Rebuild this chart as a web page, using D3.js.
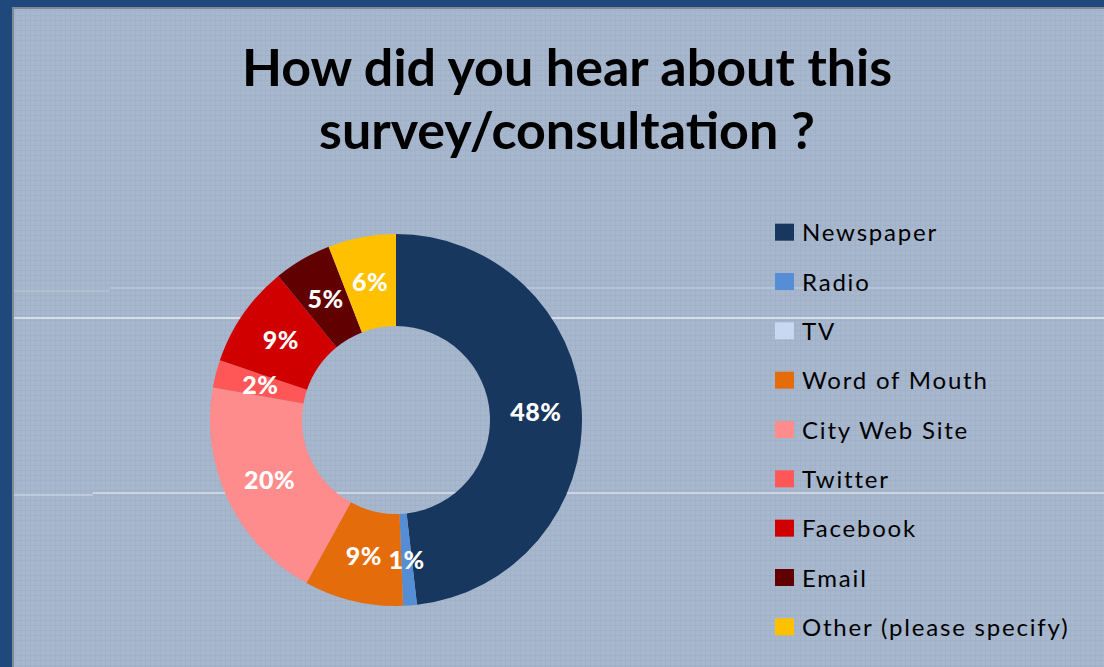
<!DOCTYPE html>
<html lang="en">
<head>
    <meta charset="UTF-8">
    <title>How did you hear about this survey/consultation ?</title>
    <script src="https://cdn.jsdelivr.net/npm/d3@7"></script>
    <style>
        body { margin: 0; background: #1f497d; }
        svg { display: block; }
    </style>
</head>
<body>
<script>
    // chart data
    var categories = ["Newspaper", "Radio", "TV", "Word of Mouth", "City Web Site",
                      "Twitter", "Facebook", "Email", "Other (please specify)"];
    var shares = [48.2, 1.2, 0, 8.6, 19.8, 2.4, 8.9, 5.0, 5.9];
    var colours = ["#17375e", "#558ed5", "#c6d9f1", "#e46c0a", "#ff8c8c",
                   "#ff5757", "#d00000", "#600000", "#ffc000"];
    var titleLines = ["How did you hear about this", "survey/consultation ?"];

    var W = 1104, H = 667;
    var svg = d3.select("body").append("svg")
            .attr("width", W)
            .attr("height", H);

    // faint grid texture of the slide background
    var defs = svg.append("defs");
    var pat = defs.append("pattern")
            .attr("id", "grid")
            .attr("width", 5).attr("height", 5)
            .attr("patternUnits", "userSpaceOnUse");
    pat.append("rect").attr("width", 5).attr("height", 5).attr("fill", "#a7b7cd");
    pat.append("path").attr("d", "M0,0.5H5M0.5,0V5")
            .attr("stroke", "#a0b1c8").attr("stroke-width", 1);

    // frame
    svg.append("rect").attr("width", W).attr("height", H).attr("fill", "#1f497d");
    svg.append("rect").attr("x", 12).attr("y", 7).attr("width", W - 12).attr("height", H - 7)
            .attr("fill", "#7f8a99");
    svg.append("rect").attr("x", 14).attr("y", 9).attr("width", W - 14).attr("height", H - 9)
            .attr("fill", "url(#grid)");

    // stray light lines on the background
    var lines = [
        {x1: 110, x2: W, y: 288, o: 0.3},
        {x1: 14, x2: 110, y: 291, o: 0.25},
        {x1: 14, x2: W, y: 318, o: 0.85},
        {x1: 93, x2: W, y: 493, o: 0.7},
        {x1: 14, x2: 93, y: 495, o: 0.5}
    ];
    svg.selectAll("line.bg").data(lines).enter().append("line")
            .attr("class", "bg")
            .attr("x1", function(d) { return d.x1; })
            .attr("x2", function(d) { return d.x2; })
            .attr("y1", function(d) { return d.y; })
            .attr("y2", function(d) { return d.y; })
            .attr("stroke", "#eef2f8")
            .attr("stroke-opacity", function(d) { return d.o; })
            .attr("stroke-width", 1.5);

    // title
    svg.append("text")
            .attr("x", 567)
            .attr("y", 86)
            .attr("text-anchor", "middle")
            .style("font-family", "Lato, 'Open Sans', sans-serif")
            .style("font-weight", "bold")
            .style("font-size", "52px")
            .attr("fill", "#000")
            .selectAll("tspan").data(titleLines).enter().append("tspan")
            .attr("x", 567)
            .attr("dy", function(d, i) { return i ? 63 : 0; })
            .text(function(d) { return d; });

    // donut
    var cx = 396, cy = 420, rOut = 186, rIn = 94;
    var pie = d3.pie().sort(null).value(function(d) { return d; });
    var arc = d3.arc().innerRadius(rIn).outerRadius(rOut);
    var labelArc = d3.arc().innerRadius((rIn + rOut) / 2).outerRadius((rIn + rOut) / 2);
    var colour = d3.scaleOrdinal().domain(categories).range(colours);
    var arcs = pie(shares);

    var g = svg.append("g").attr("transform", "translate(" + cx + "," + cy + ")");
    g.selectAll("path").data(arcs).enter().append("path")
            .attr("d", arc)
            .attr("fill", function(d, i) { return colour(categories[i]); });

    g.selectAll("text").data(arcs.filter(function(d) { return d.value > 0; }))
            .enter().append("text")
            .attr("transform", function(d) { return "translate(" + labelArc.centroid(d) + ")"; })
            .attr("dy", "0.36em")
            .attr("text-anchor", "middle")
            .style("font-family", "Lato, 'Open Sans', sans-serif")
            .style("font-weight", "900")
            .style("font-size", "25px")
            .style("letter-spacing", "0.5px")
            .attr("fill", "#fff")
            .text(function(d) { return Math.round(d.value) + "%"; });

    // legend
    var y = d3.scaleBand().domain(categories).range([208, 652]);
    var legend = svg.append("g").attr("transform", "translate(775,0)");
    var row = legend.selectAll("g").data(categories).enter().append("g")
            .attr("transform", function(d) { return "translate(0," + (y(d) + y.bandwidth() / 2) + ")"; });
    row.append("rect")
            .attr("x", 0).attr("y", -9)
            .attr("width", 19).attr("height", 17)
            .attr("fill", function(d) { return colour(d); });
    row.append("text")
            .attr("x", 27)
            .attr("dy", "0.36em")
            .style("font-family", "Lato, 'Open Sans', sans-serif")
            .style("font-size", "24px")
            .style("letter-spacing", "1.8px")
            .attr("fill", "#000")
            .text(function(d) { return d; });
</script>
</body>
</html>
